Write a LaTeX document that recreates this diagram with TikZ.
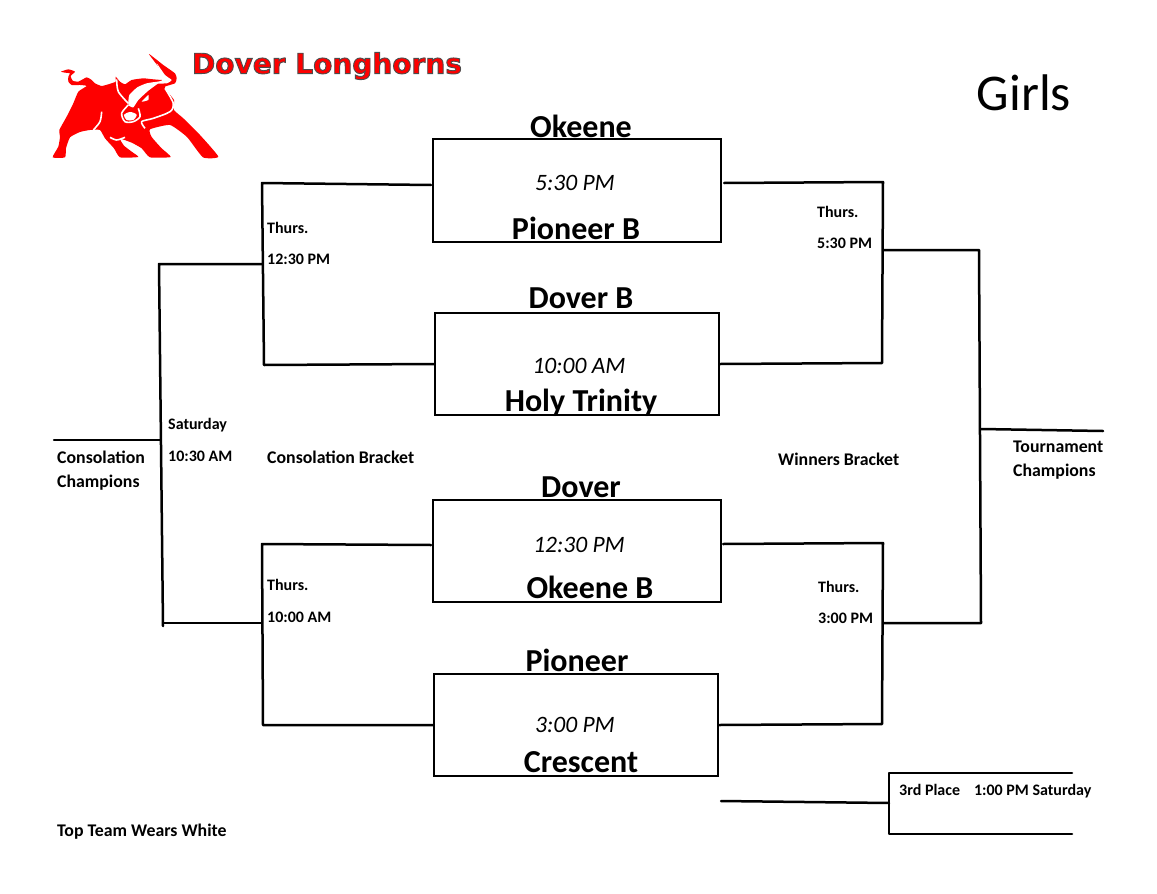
\documentclass[tikz,border=0pt]{standalone}
\usepackage{fontspec}
\setmainfont{Carlito}
\newfontfamily\logofont{DejaVu Sans}
\pgfdeclarelayer{edgelayer}
\pgfdeclarelayer{nodelayer}
\pgfsetlayers{edgelayer,nodelayer,main}
\definecolor{bullred}{RGB}{254,0,0}
\tikzstyle{none}=[inner sep=0pt]
\tikzstyle{game}=[draw=black,line width=2.5pt,fill=white,inner sep=0pt]
\tikzstyle{bracket}=[draw=black,line width=2.5pt,line cap=round,line join=round]
\tikzstyle{team}=[inner sep=0pt,font=\fontsize{32}{32}\selectfont\bfseries]
\tikzstyle{gametime}=[inner sep=0pt,font=\fontsize{23.5}{23.5}\selectfont\itshape]
\tikzstyle{small}=[inner sep=0pt,anchor=west,font=\fontsize{16}{16}\selectfont\bfseries]
\tikzstyle{wide}=[inner sep=0pt,anchor=west,font=\fontsize{17.8}{17.8}\selectfont\bfseries]
\tikzstyle{bullline}=[draw=white,line width=1.6pt]
\begin{document}
\begin{tikzpicture}[x=1pt,y=-1pt]
	\useasboundingbox (0,0) rectangle (1157,894);
	\begin{pgfonlayer}{nodelayer}
		\node [style=game,minimum width=288pt,minimum height=103pt] (0) at (577, 190.5) {};
		\node [style=game,minimum width=284pt,minimum height=102pt] (1) at (577, 364) {};
		\node [style=game,minimum width=288pt,minimum height=102pt] (2) at (577, 551) {};
		\node [style=game,minimum width=284pt,minimum height=102pt] (3) at (576, 725) {};
		\node [style=team] (4) at (581, 126) {Okeene};
		\node [style=gametime] (5) at (575, 183) {5:30 PM};
		\node [style=team] (6) at (576, 228) {Pioneer B};
		\node [style=team] (7) at (581, 298) {Dover B};
		\node [style=gametime] (8) at (579, 366) {10:00 AM};
		\node [style=team] (9) at (581, 403) {Holy Trinity};
		\node [style=team] (10) at (581, 487) {Dover};
		\node [style=gametime] (11) at (579, 545) {12:30 PM};
		\node [style=team] (12) at (590, 587) {Okeene B};
		\node [style=team] (13) at (577, 660) {Pioneer};
		\node [style=gametime] (14) at (575, 725) {3:00 PM};
		\node [style=team] (15) at (581, 762) {Crescent};
		\node [style=small] (16) at (267, 227.5) {Thurs.};
		\node [style=small] (17) at (267, 259.5) {12:30 PM};
		\node [style=small] (18) at (267, 584.5) {Thurs.};
		\node [style=small] (19) at (267, 617.5) {10:00 AM};
		\node [style=small] (20) at (168, 425) {Saturday};
		\node [style=small] (21) at (168, 456.5) {10:30 AM};
		\node [style=wide] (22) at (57, 457.5) {Consolation};
		\node [style=wide] (23) at (57, 482.5) {Champions};
		\node [style=wide] (24) at (267, 457.5) {Consolation Bracket};
		\node [style=wide] (25) at (778, 459.5) {Winners Bracket};
		\node [style=small] (26) at (817, 211.5) {Thurs.};
		\node [style=small] (27) at (817, 243.5) {5:30 PM};
		\node [style=small] (28) at (818, 586.5) {Thurs.};
		\node [style=small] (29) at (818, 618.5) {3:00 PM};
		\node [style=wide] (30) at (1013, 446.5) {Tournament};
		\node [style=wide] (31) at (1013, 472) {Champions};
		\node [style=small] (32) at (899, 791.5) {3rd Place\hspace{14pt}1:00 PM Saturday};
		\node [style=wide] (33) at (57, 832) {Top Team Wears White};
		\node [style=none,font=\fontsize{51.5}{51.5}\selectfont] (34) at (1024, 93) {Girls};
		\node [style=none,text=bullred,font=\fontsize{28}{28}\selectfont\logofont\bfseries] (35) at (327, 66) {\special{pdf:code 2 Tr 0.9 w 0.3 0.3 0.3 RG}Dover Longhorns\special{pdf:code 0 Tr}};
	\end{pgfonlayer}
	\begin{pgfonlayer}{edgelayer}
		\coordinate (a1) at (262, 183);
		\coordinate (a2) at (264, 365);
		\coordinate (a3) at (262, 544);
		\coordinate (a4) at (263, 725);
		\coordinate (a5) at (262, 264);
		\coordinate (a6) at (262, 623);
		\coordinate (a7) at (159, 264);
		\coordinate (a8) at (163, 626);
		\coordinate (a9) at (54, 440);
		\coordinate (a10) at (160, 440);
		\coordinate (b1) at (883, 182);
		\coordinate (b2) at (882, 363);
		\coordinate (b3) at (883, 543);
		\coordinate (b4) at (882, 724);
		\coordinate (b5) at (883, 250);
		\coordinate (b6) at (883, 623);
		\coordinate (b7) at (979, 250);
		\coordinate (b8) at (981, 623);
		\coordinate (b9) at (981, 429);
		\coordinate (b10) at (1103, 431);
		\coordinate (c1) at (721, 801);
		\coordinate (c2) at (889, 803);
		\coordinate (c3) at (1072, 773);
		\coordinate (c4) at (889, 773);
		\coordinate (c5) at (889, 834);
		\coordinate (c6) at (1072, 834);
		\draw [style=bracket] (431, 185) -- (a1) -- (a2) -- (1.west);
		\draw [style=bracket] (431, 545) -- (a3) -- (a4) -- (3.west);
		\draw [style=bracket] (724, 183) -- (b1) -- (b2) -- (1.east);
		\draw [style=bracket] (723, 544) -- (b3) -- (b4) -- (3.east);
		\draw [style=bracket] (a5) -- (a7) -- (a8);
		\draw [style=bracket] (a6) -- (163, 623);
		\draw [style=bracket] (a9) -- (a10);
		\draw [style=bracket] (b5) -- (b7) -- (b8) -- (b6);
		\draw [style=bracket] (b9) -- (b10);
		\draw [style=bracket] (c1) -- (c2);
		\draw [style=bracket] (c3) -- (c4) -- (c5) -- (c6);
	\end{pgfonlayer}
	% bull
	\begin{scope}[shift={(50,50)},x=0.3333pt,y=-0.3333pt]
		\fill [bullred] plot [smooth cycle,tension=0.3] coordinates {(33,65) (55,58) (75,65) (62,78) (68,92) (85,95) (110,82) (125,90) (135,100) (155,108) (178,102) (197,95) (197,80) (210,95) (225,103) (245,90) (280,85) (310,88) (345,90) (340,75) (325,50) (297,12) (340,45) (375,70) (380,85) (375,100) (345,110) (352,125) (372,150) (372,180) (400,205) (450,255) (505,320) (459,322) (411,261) (360,225) (300,238) (305,261) (335,295) (362,321) (300,322) (275,295) (245,278) (210,266) (222,287) (245,305) (265,321) (210,322) (192,295) (165,265) (150,240) (120,240) (90,246) (60,262) (48,295) (45,322) (8,322) (25,290) (30,260) (28,240) (50,200) (70,160) (85,125) (110,108) (90,105) (65,105) (55,95) (55,80) (60,70) (45,68)};
		\fill [white] plot [smooth cycle,tension=0.3] coordinates {(320,40) (345,75) (365,90) (350,100) (310,100) (340,88)};
		\fill [white] plot [smooth cycle,tension=0.3] coordinates {(238,135) (262,112) (290,100) (330,95) (295,122) (265,150) (250,172) (235,165)};
		\fill [white] plot [smooth cycle,tension=0.3] coordinates {(275,155) (295,135) (295,150)};
		\fill [white] plot [smooth cycle,tension=0.5] coordinates {(222,195) (240,186) (260,194) (250,210) (230,210)};
		\draw [style=bullline] plot [smooth,tension=0.5] coordinates {(200,88) (205,125) (235,160)};
		\draw [style=bullline] plot [smooth,tension=0.5] coordinates {(235,165) (215,190) (225,215) (250,215) (270,200) (265,175)};
		\draw [style=bullline] plot [smooth,tension=0.5] coordinates {(345,115) (370,160) (360,185) (310,205) (275,215) (285,235)};
		\draw [style=bullline] plot [smooth,tension=0.5] coordinates {(155,185) (150,215) (130,240)};
		\draw [style=bullline] plot [smooth,tension=0.5] coordinates {(180,262) (200,270) (225,262)};
	\end{scope}
\end{tikzpicture}
\end{document}
